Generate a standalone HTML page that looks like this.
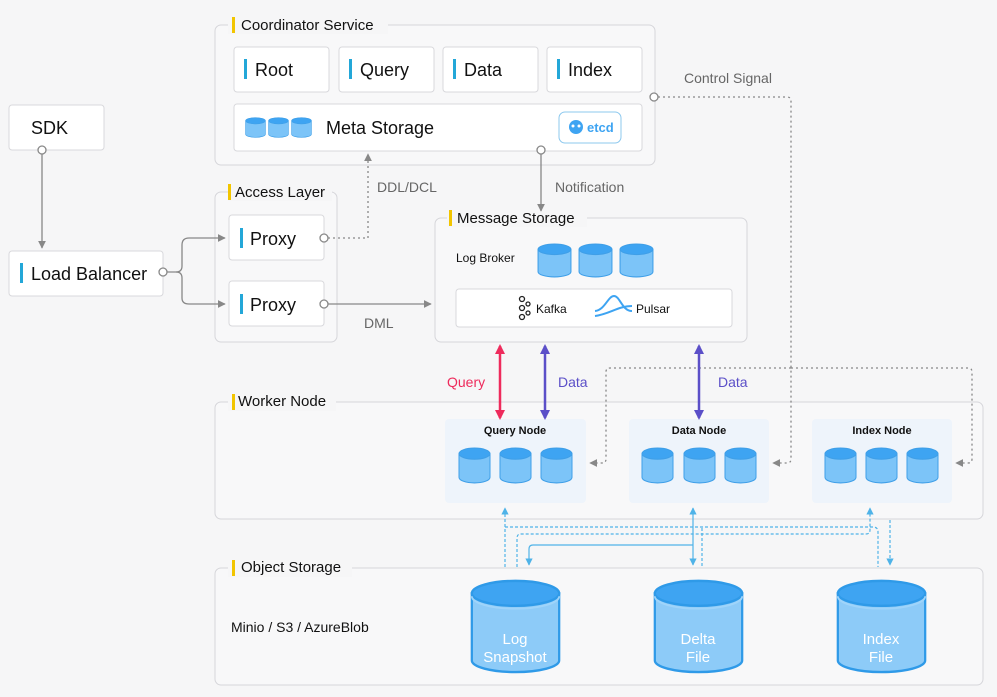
<!DOCTYPE html>
<html><head><meta charset="utf-8"><style>
html,body{margin:0;padding:0;background:#f6f6f7;}
svg{display:block;font-family:"Liberation Sans",sans-serif;}
</style></head><body>
<svg width="997" height="697" viewBox="0 0 997 697" xmlns="http://www.w3.org/2000/svg">
<defs>
<symbol id="cyl" viewBox="0 0 100 100" preserveAspectRatio="none">
<path d="M3,18 V82 A47,15 0 0 0 97,82 V18 Z" fill="#7cc4f8" stroke="#3f9fe8" stroke-width="3"/>
<ellipse cx="50" cy="18" rx="47" ry="15" fill="#3ea4f2" stroke="#3f9fe8" stroke-width="3"/>
</symbol>
<symbol id="bigcyl" viewBox="0 0 100 100" preserveAspectRatio="none">
<path d="M2,16 V86 A48,12 0 0 0 98,86 V16 Z" fill="#8dcbf8" stroke="#2f9ae8" stroke-width="2.5"/>
<ellipse cx="50" cy="16" rx="48" ry="13" fill="#3ea4f2" stroke="#2f9ae8" stroke-width="2.5"/>
<path d="M2,19 A48,13 0 0 0 98,19" fill="none" stroke="#9fd4fa" stroke-width="2"/>
</symbol>
<marker id="ag" viewBox="0 0 10 10" refX="9" refY="5" markerWidth="6" markerHeight="6" orient="auto-start-reverse"><path d="M0,0 L10,5 L0,10 z" fill="#888"/></marker>
<marker id="ab" viewBox="0 0 10 10" refX="9" refY="5" markerWidth="6" markerHeight="6" orient="auto-start-reverse"><path d="M0,0 L10,5 L0,10 z" fill="#4fb3e8"/></marker>
<marker id="ar" viewBox="0 0 10 10" refX="8" refY="5" markerWidth="4" markerHeight="4" orient="auto-start-reverse"><path d="M0,0 L10,5 L0,10 z" fill="#ee2b5c"/></marker>
<marker id="ap" viewBox="0 0 10 10" refX="8" refY="5" markerWidth="4" markerHeight="4" orient="auto-start-reverse"><path d="M0,0 L10,5 L0,10 z" fill="#5b4fc8"/></marker>
</defs>

<!-- group boxes -->
<g fill="#f8f8f9" stroke="#d6d6da" stroke-width="1">
<rect x="215" y="25" width="440" height="140" rx="6"/>
<rect x="215" y="192" width="122" height="150" rx="6"/>
<rect x="435" y="218" width="312" height="124" rx="6"/>
<rect x="215" y="402" width="768" height="117" rx="6"/>
<rect x="215" y="568" width="768" height="117" rx="6"/>
</g>
<!-- title backgrounds -->
<g fill="#f6f6f7">
<rect x="228" y="16" width="160" height="18"/>
<rect x="228" y="183" width="104" height="18"/>
<rect x="447" y="209" width="140" height="18"/>
<rect x="228" y="393" width="108" height="18"/>
<rect x="228" y="559" width="124" height="18"/>
</g>
<g fill="#f2c500">
<rect x="232" y="17" width="3" height="16"/>
<rect x="228" y="184" width="3" height="16"/>
<rect x="449" y="210" width="3" height="16"/>
<rect x="232" y="394" width="3" height="16"/>
<rect x="232" y="560" width="3" height="16"/>
<rect x="20" y="117" width="3" height="20"/>
</g>
<g fill="#111" font-size="15">
<text x="241" y="30">Coordinator Service</text>
<text x="235" y="197">Access Layer</text>
<text x="457" y="223">Message Storage</text>
<text x="238" y="406">Worker Node</text>
<text x="241" y="572">Object Storage</text>
</g>

<!-- white boxes -->
<g fill="#fff" stroke="#d8d8dc">
<rect x="9" y="105" width="95" height="45" rx="3"/>
<rect x="9" y="251" width="154" height="45" rx="3"/>
<rect x="234" y="47" width="95" height="45" rx="3"/>
<rect x="339" y="47" width="95" height="45" rx="3"/>
<rect x="443" y="47" width="95" height="45" rx="3"/>
<rect x="547" y="47" width="95" height="45" rx="3"/>
<rect x="234" y="104" width="408" height="47" rx="3"/>
<rect x="229" y="215" width="95" height="45" rx="3"/>
<rect x="229" y="281" width="95" height="45" rx="3"/>
<rect x="456" y="289" width="276" height="38" rx="3"/>
</g>
<rect x="559" y="112" width="62" height="31" rx="6" fill="#fff" stroke="#8cc8ee"/>
<circle cx="576" cy="127" r="7" fill="#3ea4f2"/><circle cx="573" cy="126" r="1.5" fill="#fff"/><circle cx="579" cy="126" r="1.5" fill="#fff"/>
<text x="587" y="132" font-size="13" font-weight="bold" fill="#3ea4f2">etcd</text>

<g fill="#23a7d8">
<rect x="244" y="59" width="3" height="20"/><rect x="349" y="59" width="3" height="20"/>
<rect x="453" y="59" width="3" height="20"/><rect x="557" y="59" width="3" height="20"/>
<rect x="20" y="263" width="3" height="20"/>
<rect x="240" y="228" width="3" height="20"/><rect x="240" y="294" width="3" height="20"/>
</g>
<g fill="#111" font-size="18">
<text x="31" y="134">SDK</text>
<text x="31" y="280">Load Balancer</text>
<text x="255" y="76">Root</text>
<text x="360" y="76">Query</text>
<text x="464" y="76">Data</text>
<text x="568" y="76">Index</text>
<text x="250" y="245">Proxy</text>
<text x="250" y="311">Proxy</text>
<text x="326" y="134">Meta Storage</text>
</g>
<use href="#cyl" x="245" y="117" width="21" height="21"/>
<use href="#cyl" x="268" y="117" width="21" height="21"/>
<use href="#cyl" x="291" y="117" width="21" height="21"/>

<text x="456" y="262" font-size="12" fill="#111">Log Broker</text>
<use href="#cyl" x="537" y="243" width="35" height="35"/>
<use href="#cyl" x="578" y="243" width="35" height="35"/>
<use href="#cyl" x="619" y="243" width="35" height="35"/>
<g stroke="#222" fill="none" stroke-width="1.3"><circle cx="522" cy="299" r="2.5"/><circle cx="522" cy="308" r="2.5"/><circle cx="522" cy="317" r="2.5"/><circle cx="528" cy="304" r="2"/><circle cx="528" cy="313" r="2"/></g>
<text x="536" y="313" font-size="12" fill="#111">Kafka</text>
<path d="M595,311 C605,310 608,296 614,296 C620,296 622,311 632,311 M595,316 C610,314 618,306 632,306" stroke="#3ea4f2" stroke-width="2" fill="none"/>
<text x="636" y="313" font-size="12" fill="#111">Pulsar</text>

<!-- worker node panels -->
<g fill="#eef4fb">
<rect x="445" y="419" width="141" height="84" rx="4"/>
<rect x="629" y="419" width="140" height="84" rx="4"/>
<rect x="812" y="419" width="140" height="84" rx="4"/>
</g>
<g font-size="11" font-weight="bold" fill="#111" text-anchor="middle">
<text x="515" y="434">Query Node</text>
<text x="699" y="434">Data Node</text>
<text x="882" y="434">Index Node</text>
</g>
<use href="#cyl" x="458" y="447" width="33" height="37"/>
<use href="#cyl" x="499" y="447" width="33" height="37"/>
<use href="#cyl" x="540" y="447" width="33" height="37"/>
<use href="#cyl" x="641" y="447" width="33" height="37"/>
<use href="#cyl" x="683" y="447" width="33" height="37"/>
<use href="#cyl" x="724" y="447" width="33" height="37"/>
<use href="#cyl" x="824" y="447" width="33" height="37"/>
<use href="#cyl" x="865" y="447" width="33" height="37"/>
<use href="#cyl" x="906" y="447" width="33" height="37"/>

<!-- object storage -->
<text x="231" y="632" font-size="14" fill="#111">Minio / S3 / AzureBlob</text>
<use href="#bigcyl" x="470" y="578" width="91" height="96"/>
<use href="#bigcyl" x="653" y="578" width="91" height="96"/>
<use href="#bigcyl" x="836" y="578" width="91" height="96"/>
<g font-size="15" fill="#fff" text-anchor="middle">
<text x="515" y="644">Log</text><text x="515" y="662">Snapshot</text>
<text x="698" y="644">Delta</text><text x="698" y="662">File</text>
<text x="881" y="644">Index</text><text x="881" y="662">File</text>
</g>

<!-- grey connectors -->
<g stroke="#888" stroke-width="1.3" fill="none">
<line x1="42" y1="154" x2="42" y2="248" marker-end="url(#ag)"/>
<path d="M167,272 H176 Q182,272 182,266 V245 Q182,238 189,238 H225" marker-end="url(#ag)"/>
<path d="M176,272 Q182,272 182,278 V298 Q182,304 189,304 H225" marker-end="url(#ag)"/>
<line x1="328" y1="304" x2="431" y2="304" marker-end="url(#ag)"/>
<line x1="541" y1="154" x2="541" y2="211" marker-end="url(#ag)"/>
<g stroke-dasharray="2,3">
<path d="M328,238 H368 V154" marker-end="url(#ag)"/>
<path d="M658,97 H787 Q791,97 791,101 V459 Q791,463 787,463 H773" marker-end="url(#ag)"/>
<path d="M791,368 H968 Q972,368 972,372 V459 Q972,463 968,463 H956" marker-end="url(#ag)"/>
<path d="M791,368 H610 Q606,368 606,372 V459 Q606,463 602,463 H590" marker-end="url(#ag)"/>
</g>
</g>
<g fill="#fff" stroke="#888" stroke-width="1.3">
<circle cx="42" cy="150" r="4"/><circle cx="163" cy="272" r="4"/>
<circle cx="324" cy="238" r="4"/><circle cx="324" cy="304" r="4"/>
<circle cx="654" cy="97" r="4"/><circle cx="541" cy="150" r="4"/>
</g>
<g font-size="14" fill="#666">
<text x="377" y="192">DDL/DCL</text>
<text x="555" y="192">Notification</text>
<text x="684" y="83">Control Signal</text>
<text x="364" y="328">DML</text>
</g>

<!-- coloured arrows -->
<line x1="500" y1="346" x2="500" y2="418" stroke="#ee2b5c" stroke-width="2.5" marker-start="url(#ar)" marker-end="url(#ar)"/>
<line x1="545" y1="346" x2="545" y2="418" stroke="#5b4fc8" stroke-width="2.5" marker-start="url(#ap)" marker-end="url(#ap)"/>
<line x1="699" y1="346" x2="699" y2="418" stroke="#5b4fc8" stroke-width="2.5" marker-start="url(#ap)" marker-end="url(#ap)"/>
<g font-size="14">
<text x="447" y="387" fill="#ee2b5c">Query</text>
<text x="558" y="387" fill="#5b4fc8">Data</text>
<text x="718" y="387" fill="#5b4fc8">Data</text>
</g>

<!-- blue connectors -->
<g stroke="#4fb3e8" stroke-width="1.2" fill="none">
<line x1="693" y1="508" x2="693" y2="565" marker-start="url(#ab)" marker-end="url(#ab)"/>
<path d="M693,545 H533 Q529,545 529,549 V565" marker-end="url(#ab)"/>
<g stroke-dasharray="3,2">
<path d="M505,567 V508" marker-end="url(#ab)"/>
<path d="M505,527 H873 Q878,527 878,532 V567"/>
<path d="M702,528 Q702,528 702,533 V567"/>
<path d="M517,567 V538 Q517,534 521,534 H866 Q870,534 870,530 V508" marker-end="url(#ab)"/>
<path d="M890,520 V565" marker-end="url(#ab)"/>
</g>
</g>
</svg>
</body></html>
